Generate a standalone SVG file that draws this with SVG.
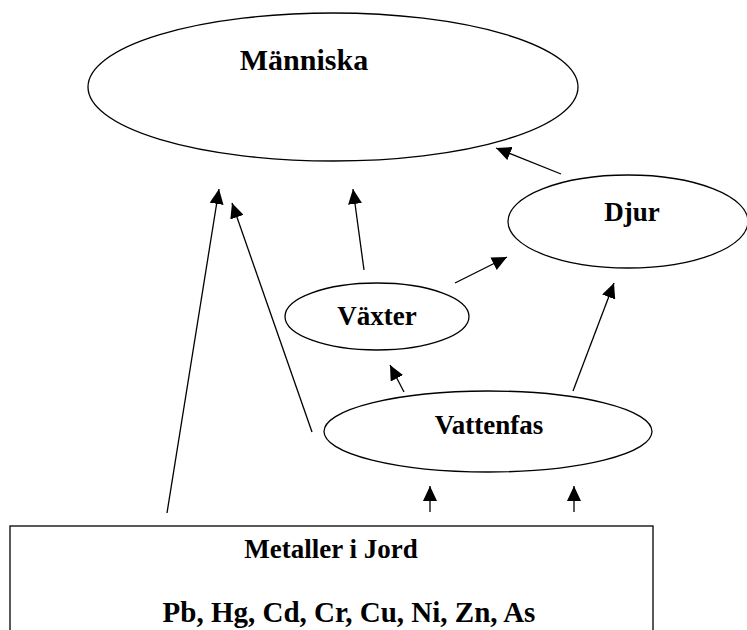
<svg xmlns="http://www.w3.org/2000/svg" width="747" height="630" viewBox="0 0 747 630">
<defs>
<style>
.shape{fill:#fff;stroke:#000;stroke-width:1.3}
.lbl{font-family:"Liberation Serif","Times New Roman",serif;font-weight:bold;fill:#000;text-anchor:middle}
.conn line{stroke:#000;stroke-width:1.3;marker-end:url(#ah)}
</style>
<marker id="ah" viewBox="0 -7 15 14" refX="15" refY="0" markerWidth="15" markerHeight="14" markerUnits="userSpaceOnUse" orient="auto">
<path d="M0,-7 L15,0 L0,7 z" fill="#000"/>
</marker>
</defs>
<rect width="747" height="630" fill="#fff"/>
<g id="manniska">
<ellipse class="shape" cx="333" cy="87" rx="245" ry="74"/>
<text class="lbl" x="304" y="70" font-size="30">Människa</text>
</g>
<g id="djur">
<ellipse class="shape" cx="628" cy="221.5" rx="120" ry="46.5"/>
<text class="lbl" x="632" y="221" font-size="27">Djur</text>
</g>
<g id="vaxter">
<ellipse class="shape" cx="377" cy="316.5" rx="92" ry="33.5"/>
<text class="lbl" x="377" y="325" font-size="27">Växter</text>
</g>
<g id="vattenfas">
<ellipse class="shape" cx="488" cy="431.5" rx="164" ry="40.5"/>
<text class="lbl" x="489" y="434" font-size="27">Vattenfas</text>
</g>
<g id="jord">
<rect class="shape" x="10" y="526" width="643" height="120"/>
<text class="lbl" x="331" y="558" font-size="27">Metaller i Jord</text>
<text class="lbl" x="349" y="622" font-size="29">Pb, Hg, Cd, Cr, Cu, Ni, Zn, As</text>
</g>
<g id="connectors" class="conn">
<line x1="167" y1="513" x2="219" y2="189"/>
<line x1="312" y1="432" x2="232" y2="203"/>
<line x1="364" y1="270" x2="353" y2="189"/>
<line x1="455" y1="283" x2="507" y2="257"/>
<line x1="561" y1="174" x2="496" y2="148"/>
<line x1="573" y1="391" x2="614" y2="283"/>
<line x1="404" y1="392" x2="390" y2="365"/>
<line x1="430" y1="512" x2="430" y2="486"/>
<line x1="574" y1="512" x2="574" y2="486"/>
</g>
</svg>
